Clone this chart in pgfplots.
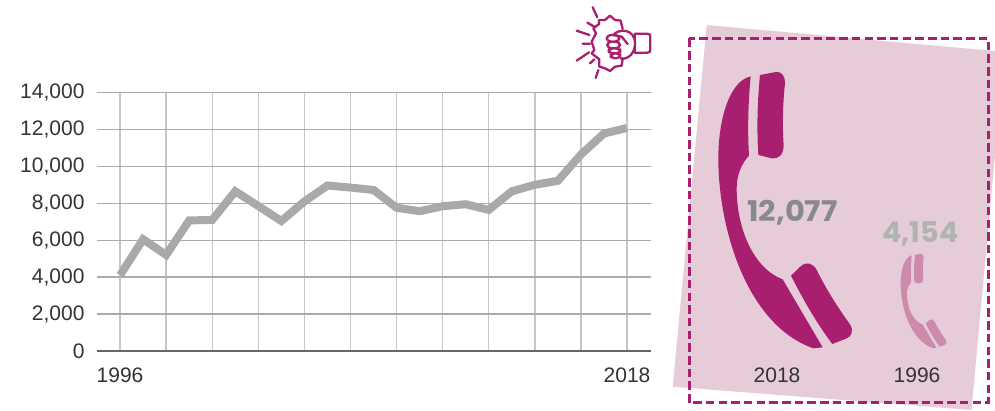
\documentclass[border=0pt]{standalone}
\usepackage{fontspec}
\setmainfont{Liberation Sans}
\newfontfamily\numfont{Poppins}[UprightFont=* Bold]
\usepackage{pgfplots}
\pgfplotsset{compat=1.18}
\definecolor{mag}{HTML}{A91F6F}
\definecolor{magl}{HTML}{CC8BAA}
\definecolor{bgp}{HTML}{E6CCD8}
\definecolor{txt}{HTML}{333333}
\definecolor{linegrey}{HTML}{A8A9AA}
\definecolor{num1}{HTML}{868A8A}
\definecolor{num2}{HTML}{AEB4B2}
\definecolor{gridh}{HTML}{ABABAB}
\definecolor{gridv}{HTML}{C6C6C6}
\definecolor{axisdark}{HTML}{666666}
\newcommand{\phone}[1]{%
  \fill[#1] (242,184) .. controls (175,200) and (145,320) .. (145,430)
    .. controls (145,640) and (230,930) .. (430,1000) -- (458,997)
    -- (338,793) .. controls (250,760) and (200,640) .. (200,520)
    .. controls (200,480) and (215,445) .. (237,422)
    .. controls (232,340) and (235,260) .. (242,184) -- cycle;
  \fill[#1] (270,180) -- (318,171) .. controls (335,168) and (346,185) .. (345,205)
    .. controls (338,270) and (337,330) .. (341,392)
    .. controls (340,420) and (325,433) .. (305,430) -- (265,420)
    .. controls (260,340) and (262,260) .. (270,180) -- cycle;
  \fill[#1] (363,782) -- (392,754) .. controls (410,738) and (430,745) .. (440,765)
    .. controls (470,825) and (505,880) .. (540,928)
    .. controls (552,948) and (545,965) .. (528,971)
    -- (487,987) .. controls (440,925) and (400,855) .. (363,782) -- cycle;
}
\begin{document}
\begin{tikzpicture}[x=1pt,y=1pt]
\path[use as bounding box] (0,0) rectangle (995,410);
\begin{scope}[y=-1pt,yshift=410pt]
  \clip (0,0) rectangle (995,410);
  \fill[bgp] (706.7,25) -- (995,51) -- (995,155) -- (971.5,410) -- (672.7,386.7) -- cycle;
  \draw[mag,line width=3pt,dash pattern=on 8.5pt off 4.2pt] (689,38.5) rectangle (988.3,402.7);
  \begin{scope}[shift={(670,15)},x=0.33333pt,y=-0.33333pt]
    \phone{mag}
  \end{scope}
  \begin{scope}[shift={(670,15)},x=0.33333pt,y=-0.33333pt]
    \begin{scope}[shift={(642,658)},x=0.1147pt,y=-0.114pt]
      \phone{magl}
    \end{scope}
  \end{scope}
  \node[font=\numfont\fontsize{28.5}{28.5}\selectfont,text=num1,inner sep=0pt,xscale=1.07] at (792.5,212.5) {12,077};
  \node[font=\numfont\fontsize{28.5}{28.5}\selectfont,text=num2,inner sep=0pt] at (920.5,234) {4,154};
  \node[font=\fontsize{21}{21}\selectfont,text=txt,inner sep=0pt] at (777,375) {2018};
  \node[font=\fontsize{21}{21}\selectfont,text=txt,inner sep=0pt] at (917,375) {1996};
  % fist icon
  \begin{scope}[shift={(560,0)},x=0.33333pt,y=-0.33333pt,draw=mag,line width=2.3pt,line join=round,line cap=round]
    \draw (188,87) -- (182,62) -- (165,60) -- (150,47) -- (135,60) -- (117,60) -- (117,72) -- (100,85) -- (108,100) -- (95,125) -- (103,150) -- (95,160) -- (118,178) -- (118,200) -- (135,205) -- (150,213) -- (165,200) -- (185,197) -- (188,175);
    \draw (98,22) -- (112,52) (82,68) -- (106,82) (50,92) -- (88,105) (68,131) -- (90,131) (50,182) -- (87,157) (90,190) -- (103,178) (107,234) -- (115,210);
    \draw (160,105) .. controls (175,85) and (225,85) .. (225,130) .. controls (225,160) and (205,178) .. (183,176);
    \draw (225,101) -- (262,101) .. controls (270,101) and (271,105) .. (271,110) -- (271,150) .. controls (271,156) and (268,158) .. (262,158) -- (225,158);
    \draw (225,101) -- (225,158);
    \draw[rounded corners=4pt] (140,105) rectangle (178,125);
    \draw[rounded corners=4pt] (142,125) rectangle (180,145);
    \draw[rounded corners=4pt] (146,145) rectangle (181,160);
    \draw[rounded corners=4pt] (152,160) rectangle (181,175);
    \draw (160,105) -- (185,110) -- (203,132);
  \end{scope}
\end{scope}
\begin{axis}[
  at={(97pt,59pt)}, anchor=south west,
  scale only axis, width=554pt, height=258.5pt,
  xmin=1995, xmax=2019.04, ymin=0, ymax=14000,
  axis x line=bottom, axis y line=left,
  x axis line style={-,draw=axisdark,line width=2pt},
  y axis line style={-,draw=none},
  xtick={1996,1998,...,2018},
  xticklabels={1996,,,,,,,,,,,2018},
  ytick={0,2000,...,14000},
  major tick length=0pt,
  ymajorgrids=true, xmajorgrids=true,
  x grid style={draw=gridv,line width=1.3pt},
  y grid style={draw=gridh,line width=1.3pt},
  tick label style={font=\fontsize{21}{21}\selectfont,text=txt},
  x tick label style={yshift=-13pt,/pgf/number format/1000 sep={}},
  y tick label style={xshift=-9pt,/pgf/number format/1000 sep={,}},
  /pgf/number format/assume math mode=true,
  scaled ticks=false,
  clip=false,
]
\addplot[draw=linegrey,line width=8pt,line join=miter,mark=none] coordinates {
(1996,4100)(1997,6050)(1998,5200)(1999,7070)(2000,7100)(2001,8650)(2002,7850)(2003,7040)(2004,8100)(2005,8960)
(2006,8850)(2007,8720)(2008,7760)(2009,7570)(2010,7840)(2011,7950)(2012,7640)(2013,8650)(2014,9000)(2015,9220)
(2016,10640)(2017,11780)(2018,12077)};
\end{axis}
\end{tikzpicture}
\end{document}
